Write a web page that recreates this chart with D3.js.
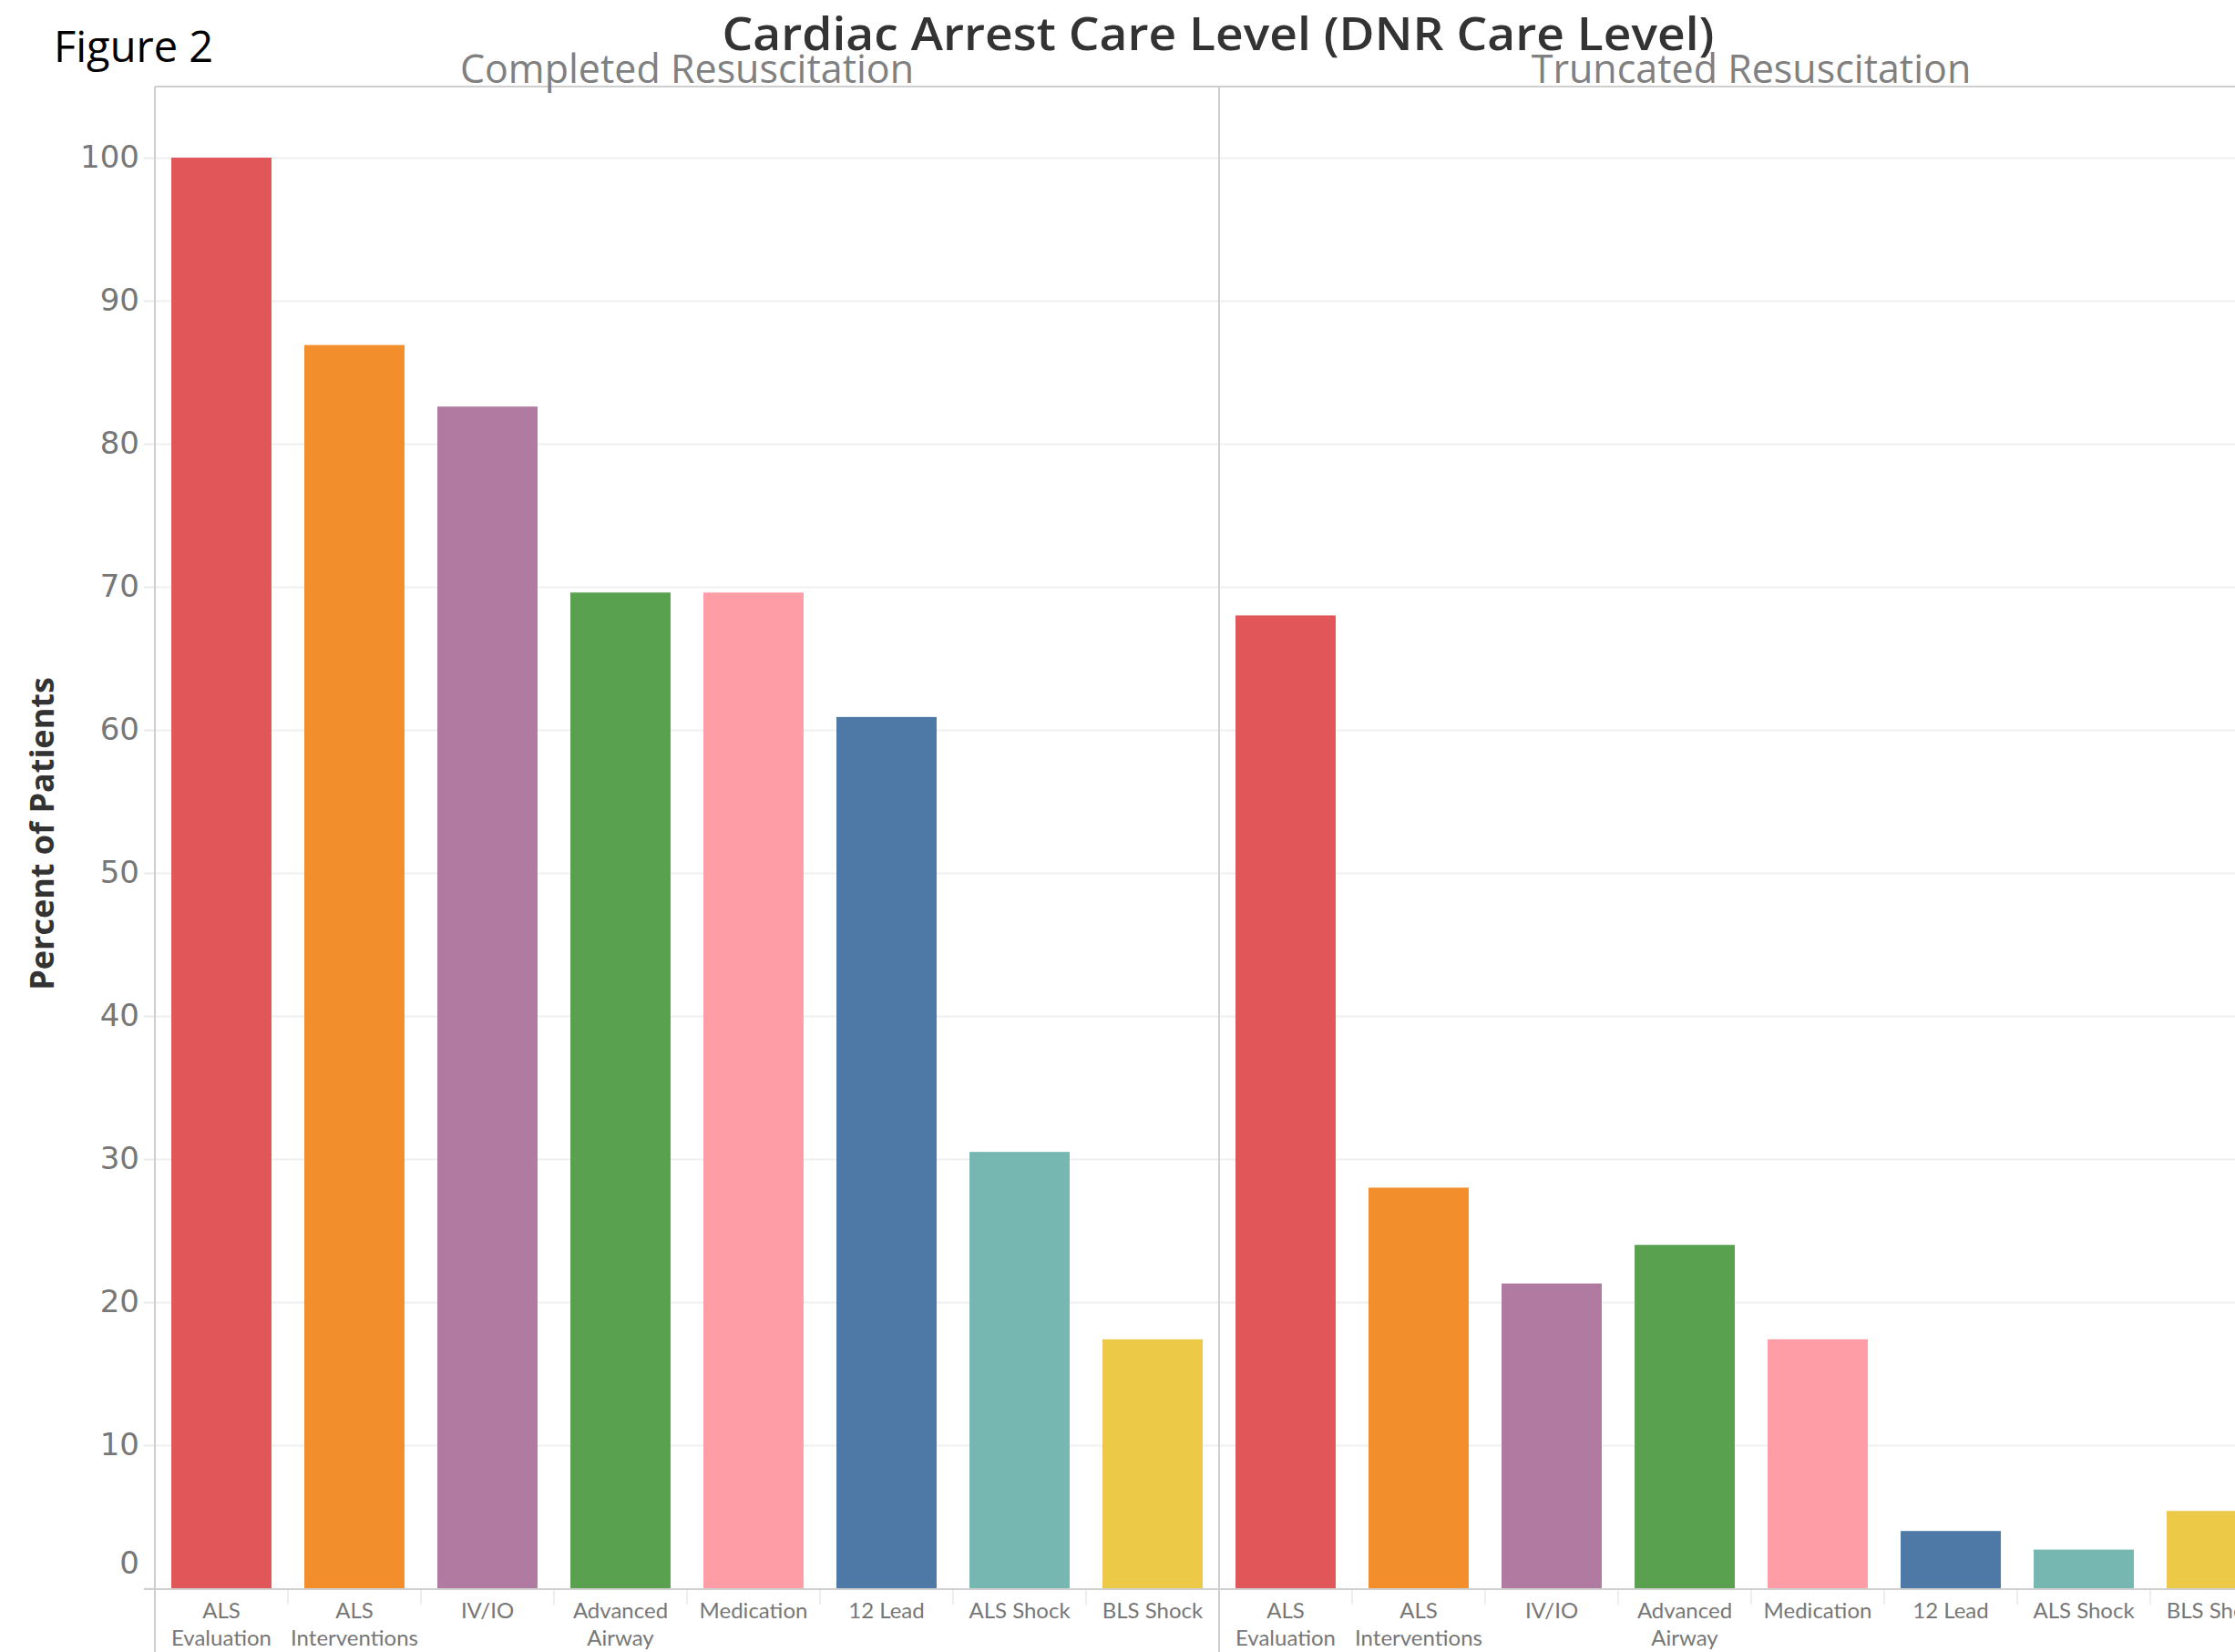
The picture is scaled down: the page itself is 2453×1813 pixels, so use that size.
<!DOCTYPE html>
<html>
<head>
<meta charset="utf-8">
<script src="https://cdn.jsdelivr.net/npm/d3@7"></script>
<style>
  html, body { margin: 0; padding: 0; background: #fff; overflow: hidden; }
  svg { display: block; }
</style>
</head>
<body>
<div id="chart"></div>
<script>
// Data
const panels = ["Completed Resuscitation", "Truncated Resuscitation"];
const categories = ["ALS Evaluation", "ALS Interventions", "IV/IO", "Advanced Airway",
                    "Medication", "12 Lead", "ALS Shock", "BLS Shock"];
const labelLines = [["ALS", "Evaluation"], ["ALS", "Interventions"], ["IV/IO"], ["Advanced", "Airway"],
                    ["Medication"], ["12 Lead"], ["ALS Shock"], ["BLS Shock"]];
const completedValues = [100, 86.9, 82.6, 69.6, 69.6, 60.9, 30.5, 17.4];
const truncatedValues = [68.0, 28.0, 21.3, 24.0, 17.4, 4.0, 2.7, 5.4];
const colors = ["#e15759", "#f28e2b", "#b07aa1", "#59a14f", "#ff9da7", "#4e79a7", "#76b7b2", "#edc948"];
const yTicks = [0, 10, 20, 30, 40, 50, 60, 70, 80, 90, 100];

const W = 2453, H = 1813;
const leftX = 170, topY = 95, zeroY = 1743, paneW = 1168;

const svg = d3.select("#chart").append("svg")
  .attr("width", W).attr("height", H);

const y = d3.scaleLinear().domain([0, 100]).range([zeroY, 173]);
const xPane = d3.scaleBand().domain(panels).range([leftX, leftX + 2 * paneW]);
const x = d3.scaleBand().domain(categories).range([0, paneW])
  .paddingInner(0.247).paddingOuter(0.1235);

const data = [
  completedValues.map((v, i) => ({ pane: panels[0], cat: categories[i], v, i })),
  truncatedValues.map((v, i) => ({ pane: panels[1], cat: categories[i], v, i }))
].flat();

// gridlines
svg.append("g")
  .selectAll("line").data(yTicks.filter(d => d > 0)).enter().append("line")
    .attr("x1", leftX).attr("x2", W)
    .attr("y1", d => y(d) + 0.5).attr("y2", d => y(d) + 0.5)
    .attr("stroke", "#f0f0f0").attr("stroke-width", 2);

// y axis
const yAxis = svg.append("g")
  .attr("transform", `translate(${leftX},0)`)
  .call(d3.axisLeft(y).tickValues(yTicks).tickSize(12).tickPadding(5));
yAxis.select(".domain").remove();
yAxis.selectAll(".tick line").attr("stroke", "#eaeaea").attr("stroke-width", 2);
yAxis.selectAll(".tick text")
  .attr("fill", "#777")
  .style("font-family", "'DejaVu Sans', sans-serif")
  .style("font-size", "34px")
  .attr("dy", d => d === 0 ? "-0.5em" : "0.32em");

// bars
svg.append("g")
  .selectAll("rect").data(data).enter().append("rect")
    .attr("x", d => xPane(d.pane) + x(d.cat))
    .attr("y", d => y(d.v))
    .attr("width", x.bandwidth())
    .attr("height", d => y(0) - y(d.v))
    .attr("fill", d => colors[d.i]);

// frame lines
const frame = svg.append("g").attr("stroke", "#cfcfcf").attr("stroke-width", 2);
frame.append("line").attr("x1", leftX).attr("x2", W).attr("y1", topY).attr("y2", topY);
frame.append("line").attr("x1", leftX - 12).attr("x2", W).attr("y1", zeroY + 1).attr("y2", zeroY + 1);
frame.append("line").attr("x1", leftX).attr("x2", leftX).attr("y1", topY).attr("y2", H);
frame.append("line").attr("x1", xPane(panels[1])).attr("x2", xPane(panels[1])).attr("y1", topY).attr("y2", H);

// x axis category labels per pane
panels.forEach(p => {
  const g = svg.append("g").attr("transform", `translate(${xPane(p)},0)`);
  // faint separators between categories
  g.selectAll("line.sep").data(categories.slice(1)).enter().append("line")
    .attr("class", "sep")
    .attr("x1", d => x(d) - x.step() * x.paddingInner() / 2)
    .attr("x2", d => x(d) - x.step() * x.paddingInner() / 2)
    .attr("y1", zeroY + 2).attr("y2", zeroY + 18)
    .attr("stroke", "#eeeeee").attr("stroke-width", 2);
  const t = g.selectAll("text.cat").data(categories).enter().append("text")
    .attr("class", "cat")
    .attr("x", d => x(d) + x.bandwidth() / 2)
    .attr("y", zeroY + 33)
    .attr("text-anchor", "middle")
    .attr("fill", "#777")
    .style("font-family", "Lato, sans-serif")
    .style("font-size", "24px");
  t.each(function(d, i) {
    const el = d3.select(this);
    labelLines[i].forEach((line, k) => {
      el.append("tspan").attr("x", x(d) + x.bandwidth() / 2)
        .attr("dy", k === 0 ? 0 : 30).text(line);
    });
  });
  // pane header
  svg.append("text")
    .attr("x", xPane(p) + paneW / 2).attr("y", topY - 4)
    .attr("text-anchor", "middle")
    .attr("fill", "#808080")
    .style("font-family", "'Open Sans', sans-serif")
    .style("font-size", "43px")
    .text(p);
});

// title
svg.append("text")
  .attr("x", 1337).attr("y", 55)
  .attr("text-anchor", "middle")
  .attr("fill", "#333")
  .style("font-family", "'Open Sans', sans-serif")
  .style("font-weight", "600")
  .style("font-size", "50px")
  .attr("textLength", 1089).attr("lengthAdjust", "spacingAndGlyphs")
  .text("Cardiac Arrest Care Level (DNR Care Level)");

// figure label
svg.append("text")
  .attr("x", 59).attr("y", 68)
  .attr("fill", "#000")
  .style("font-family", "'Open Sans', sans-serif")
  .style("font-size", "47px")
  .text("Figure 2");

// y axis title
svg.append("text")
  .attr("transform", `translate(59,915) rotate(-90)`)
  .attr("text-anchor", "middle")
  .attr("fill", "#333")
  .style("font-family", "'Open Sans', sans-serif")
  .style("font-weight", "bold")
  .style("font-size", "36px")
  .text("Percent of Patients");
</script>
</body>
</html>
